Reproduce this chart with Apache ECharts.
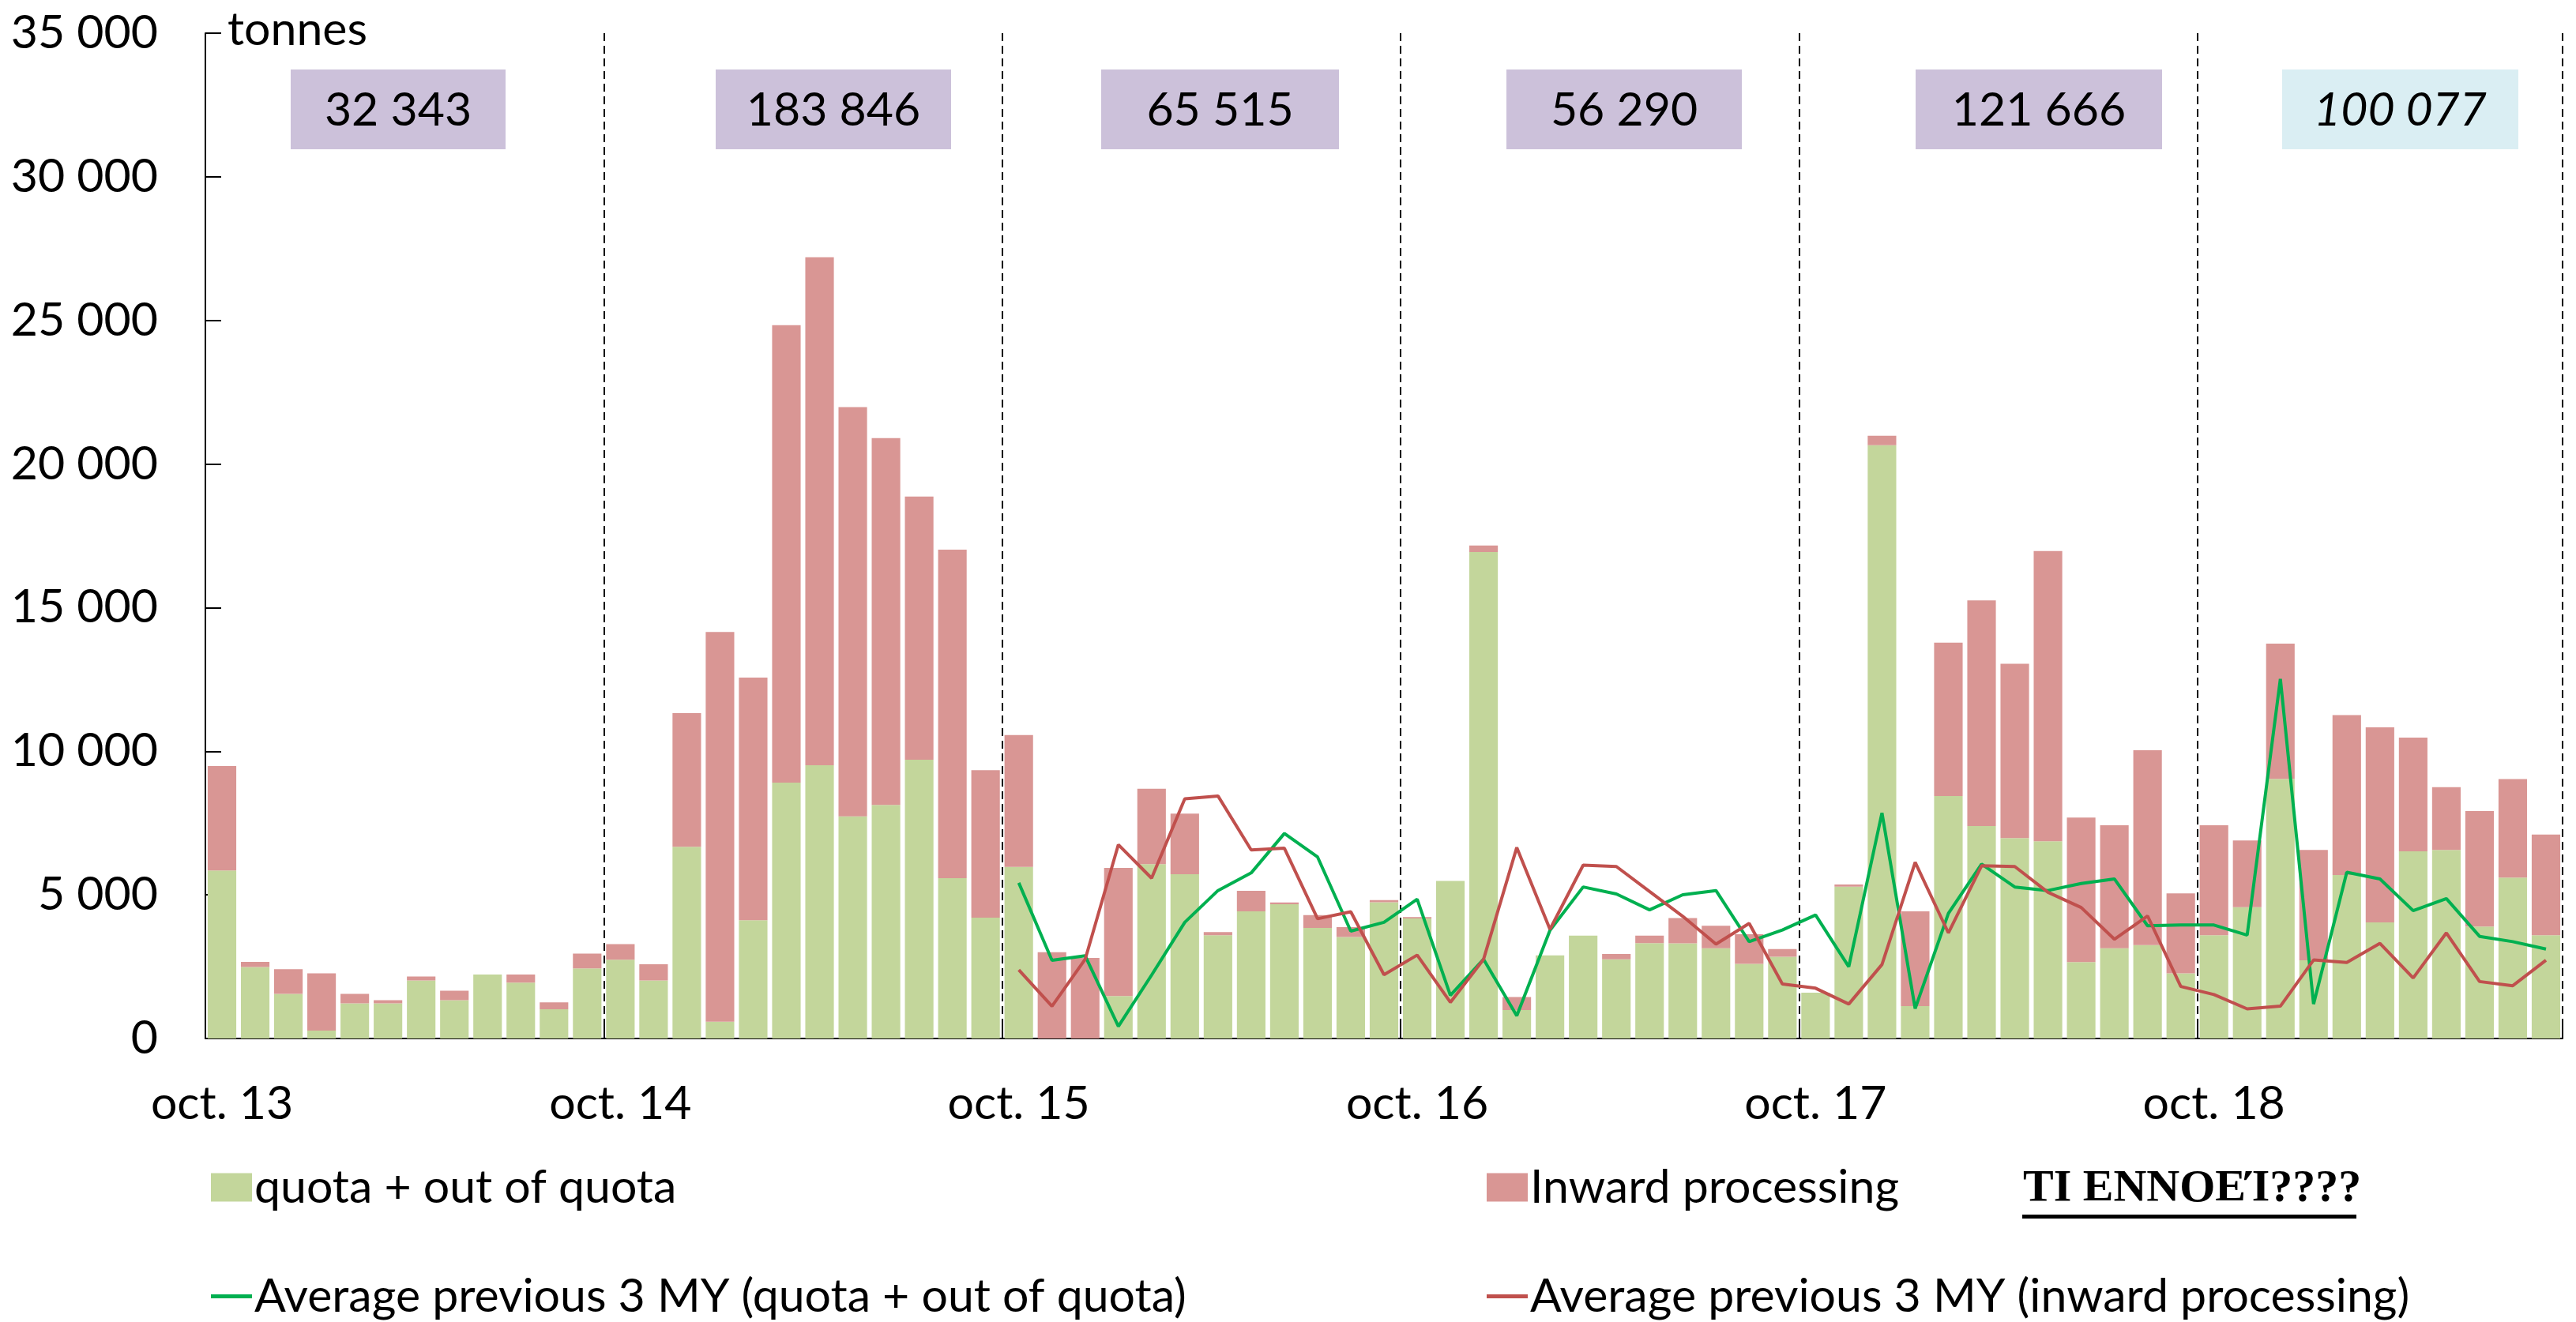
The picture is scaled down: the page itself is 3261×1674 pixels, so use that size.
<!DOCTYPE html>
<html>
<head>
<meta charset="utf-8">
<script src="https://cdn.jsdelivr.net/npm/echarts@6/dist/echarts.min.js"></script>
<style>
  html, body { margin: 0; padding: 0; background: #fff; }
  #chart { width: 3261px; height: 1674px; }
</style>
</head>
<body>
<div id="chart"></div>
<script>
// months oct. 13 -> aug. 19
var monthNames = ['oct.', 'nov.', 'dec.', 'jan.', 'feb.', 'mar.', 'apr.', 'may', 'jun.', 'jul.', 'aug.', 'sep.'];
var firstYear = 13;
var monthCount = 71;

// tonnes per month
var quotaData = [
    5852, 2486, 1554, 278, 1224, 1224, 2021, 1334, 2230, 1947, 1015, 2439,
    2744, 2021, 6674, 583, 4120, 8910, 9510, 7730, 8134, 9707, 5582, 4207,
    5973, 0, 0, 1480, 6072, 5717, 3592, 4428, 4672, 3850, 3531, 4746,
    4180, 5484, 16937, 990, 2893, 3581, 2758, 3322, 3311, 3138, 2599, 2843,
    1592, 5285, 20652, 1125, 8443, 7398, 6980, 6870, 2659, 3138, 3248, 2266,
    3592, 4573, 9042, 2723, 5693, 4043, 6515, 6564, 3899, 5604, 3592
];
var inwardData = [
    3636, 184, 860, 1988, 330, 110, 135, 330, 0, 283, 245, 515,
    542, 564, 4653, 13569, 8448, 15922, 17690, 14253, 12769, 9158, 11440, 5132,
    4592, 3003, 2805, 4457, 2626, 2110, 110, 712, 61, 443, 344, 75,
    50, 0, 223, 454, 0, 0, 185, 259, 883, 786, 1031, 270,
    0, 75, 330, 3303, 5340, 7856, 6066, 10103, 5033, 4284, 6789, 2786,
    3830, 2321, 4703, 3841, 5566, 6792, 3963, 2184, 4016, 3427, 3511
];
// averages previous 3 MY, starting oct. 15 (index 24)
var avgStart = 24;
var avgQuota = [
    5420, 2720, 2879, 424, 2206, 4045, 5151, 5764, 7139, 6317, 3740, 4045,
    4850, 1500, 2758, 792, 3765, 5275, 5030, 4477, 5005, 5151, 3371, 3776,
    4300, 2500, 7851, 1040, 4353, 6072, 5275, 5151, 5396, 5555, 3924, 3949,
    3949, 3600, 12518, 1199, 5789, 5555, 4452, 4868, 3556, 3371, 3113
];
var avgInward = [
    2390, 1125, 2758, 6748, 5582, 8344, 8443, 6564, 6625, 4169, 4414, 2220,
    2904, 1260, 2758, 6650, 3800, 6036, 5987, 5115, 4254, 3286, 4009, 1897,
    1750, 1199, 2574, 6132, 3677, 6012, 5987, 5090, 4562, 3457, 4268, 1812,
    1529, 1030, 1125, 2734, 2646, 3311, 2107, 3677, 1983, 1837, 2723
];
// marketing-year totals shown in the boxes
var yearTotals = ['32 343', '183 846', '65 515', '56 290', '121 666', '100 077'];

var seriesNames = [
    'quota + out of quota',
    'Inward processing',
    'Average previous 3 MY (quota + out of quota)',
    'Average previous 3 MY (inward processing)'
];

var categories = [];
for (var i = 0; i < monthCount; i++) {
    var yr = firstYear + Math.floor((i + 9) / 12);
    categories.push(monthNames[i % 12] + ' ' + yr);
}
function padAvg(arr) {
    var out = [];
    for (var i = 0; i < monthCount; i++) {
        out.push(i < avgStart ? '-' : arr[i - avgStart]);
    }
    return out;
}

var FONT = 'Lato';
var FS = 59;

// box layout (pixels)
var boxLeft = [368, 906, 1394, 1907, 2425, 2889];
var boxRight = [640, 1204, 1695, 2205, 2737, 3188];
var boxFill = ['#CCC1DA', '#CCC1DA', '#CCC1DA', '#CCC1DA', '#CCC1DA', '#DAEEF3'];

var graphics = [];
yearTotals.forEach(function (t, k) {
    graphics.push({
        type: 'rect',
        shape: { x: boxLeft[k], y: 88, width: boxRight[k] - boxLeft[k], height: 101 },
        style: { fill: boxFill[k] }
    });
    graphics.push({
        type: 'text',
        x: (boxLeft[k] + boxRight[k]) / 2,
        y: 140,
        style: {
            text: t, fill: '#000', fontFamily: FONT, fontSize: FS,
            fontStyle: k === 5 ? 'italic' : 'normal',
            align: 'center', verticalAlign: 'middle'
        }
    });
});
graphics.push({
    type: 'text', x: 2561, y: 1506,
    style: {
        text: 'ΤΙ ΕΝΝΟΕΊ????', fill: '#000', fontFamily: 'Liberation Serif',
        fontWeight: 'bold', fontSize: 58, align: 'left', verticalAlign: 'middle'
    }
});
graphics.push({
    type: 'rect', shape: { x: 2560, y: 1538, width: 423, height: 5 }, style: { fill: '#000' }
});

function legendAt(name, left, top, h) {
    return {
        data: [{ name: name, icon: 'rect' }],
        left: left, top: top,
        itemWidth: 52, itemHeight: h,
        textStyle: { fontFamily: FONT, fontSize: FS, color: '#000', padding: [0, 0, 0, -2] },
        selectedMode: false
    };
}

var myChart = echarts.init(document.getElementById('chart'));
myChart.setOption({
    animation: false,
    backgroundColor: '#fff',
    grid: { left: 260, right: 17, top: 42, bottom: 359, containLabel: false },
    legend: [
        legendAt(seriesNames[0], 262, 1469, 36),
        legendAt(seriesNames[1], 1877, 1469, 36),
        legendAt(seriesNames[2], 262, 1607, 5),
        legendAt(seriesNames[3], 1877, 1607, 5)
    ],
    xAxis: {
        type: 'category',
        data: categories,
        boundaryGap: true,
        axisLine: { lineStyle: { color: '#000', width: 2 } },
        axisTick: {
            show: true, inside: true, length: 24,
            interval: function (idx) { return idx % 12 === 0 && idx > 0; },
            lineStyle: { color: '#000', width: 2 }
        },
        axisLabel: {
            interval: 11, fontFamily: FONT, fontSize: FS, color: '#000', margin: 53,
            formatter: function (v) { return v.indexOf('oct.') === 0 ? v : ''; }
        },
        splitLine: {
            show: true,
            interval: function (idx) { return idx % 12 === 0 && idx > 0; },
            lineStyle: { color: '#000', width: 2, type: [10, 6] }
        }
    },
    yAxis: {
        type: 'value',
        min: 0, max: 35000, interval: 5000,
        name: 'tonnes',
        nameLocation: 'end',
        nameGap: 4,
        nameTextStyle: { fontFamily: FONT, fontSize: FS, color: '#000', align: 'left', verticalAlign: 'middle', padding: [0, 0, 0, 28] },
        axisLine: { show: true, lineStyle: { color: '#000', width: 2 } },
        axisTick: { show: true, inside: true, length: 20, lineStyle: { color: '#000', width: 2 } },
        axisLabel: {
            fontFamily: FONT, fontSize: FS, color: '#000', margin: 60,
            formatter: function (v) { return String(v).replace(/\B(?=(\d{3})+(?!\d))/g, ' '); }
        },
        splitLine: { show: false }
    },
    graphic: graphics,
    series: [
        {
            name: seriesNames[0], type: 'bar', stack: 'total', data: quotaData,
            barCategoryGap: '14%',
            itemStyle: { color: '#C3D69B' }
        },
        {
            name: seriesNames[1], type: 'bar', stack: 'total', data: inwardData,
            itemStyle: { color: '#D99694' }
        },
        {
            name: seriesNames[2], type: 'line', data: padAvg(avgQuota),
            symbol: 'none', z: 5,
            itemStyle: { color: '#00B050' },
            lineStyle: { color: '#00B050', width: 4 }
        },
        {
            name: seriesNames[3], type: 'line', data: padAvg(avgInward),
            symbol: 'none', z: 5,
            itemStyle: { color: '#C0504D' },
            lineStyle: { color: '#C0504D', width: 4 }
        }
    ]
});
window.addEventListener('resize', function () { myChart.resize(); });
</script>
</body>
</html>
